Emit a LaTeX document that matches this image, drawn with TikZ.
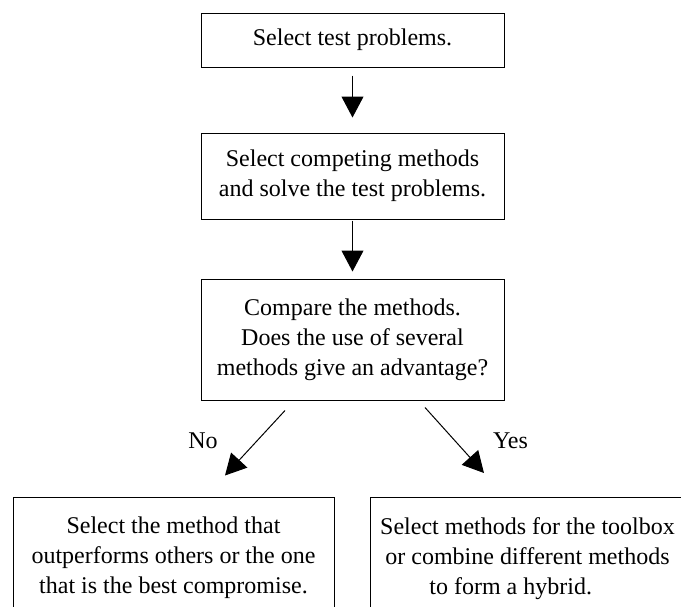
\documentclass[tikz,border=0pt]{standalone}
\usepackage{fontspec}
\setmainfont{Liberation Serif}
\usetikzlibrary{arrows.meta}

\begin{document}
\begin{tikzpicture}[x=0.5pt, y=-0.5pt,
  every node/.style={font=\fontsize{12}{15}\selectfont, align=center},
  stepbox/.style={draw, line width=0.5pt, inner sep=2pt, minimum width=151.5pt},
  flow/.style={-{Triangle[width=11pt,length=10.5pt]}, line width=0.5pt}]
  \useasboundingbox (0,0) rectangle (681,606);

  \node[stepbox, minimum height=27pt] (problems) at (352.5,40) {Select test problems.};
  \node[stepbox, minimum height=43pt] (solve) at (352.5,176) {Select competing methods\\and solve the test problems.};
  \node[stepbox, minimum height=60.5pt] (compare) at (352.5,339.5) {Compare the methods.\\Does the use of several\\methods give an advantage?};
  \draw[flow, shorten <=4pt, shorten >=7.5pt] (problems) -- (solve);
  \draw[flow, shorten <=0.5pt, shorten >=3.5pt] (solve) -- (compare);

  % the two outcomes run past the lower and right edges
  \node[stepbox, minimum width=160.5pt, minimum height=60.5pt] (pick) at (173.5,557.5) {Select the method that\\outperforms others or the one\\that is the best compromise.};
  \node[stepbox, anchor=north west, minimum width=200pt, minimum height=60.5pt] (toolbox) at (370,497)
    {\begin{tabular}{@{}c@{}}Select methods for the toolbox\\or combine different methods\\\hspace*{-1.4em}to form a hybrid.\end{tabular}\kern43pt};
  \draw[flow] ([shift={(-67.5,10)}]compare.south) -- ([shift={(51.5,-21)}]pick.north);
  \draw[flow] ([shift={(72.5,7)}]compare.south) -- ([shift={(114,-24)}]toolbox.north west);
  \node (no) at (203,441) {No};
  \node (yes) at (510.5,441) {Yes};
\end{tikzpicture}
\end{document}
